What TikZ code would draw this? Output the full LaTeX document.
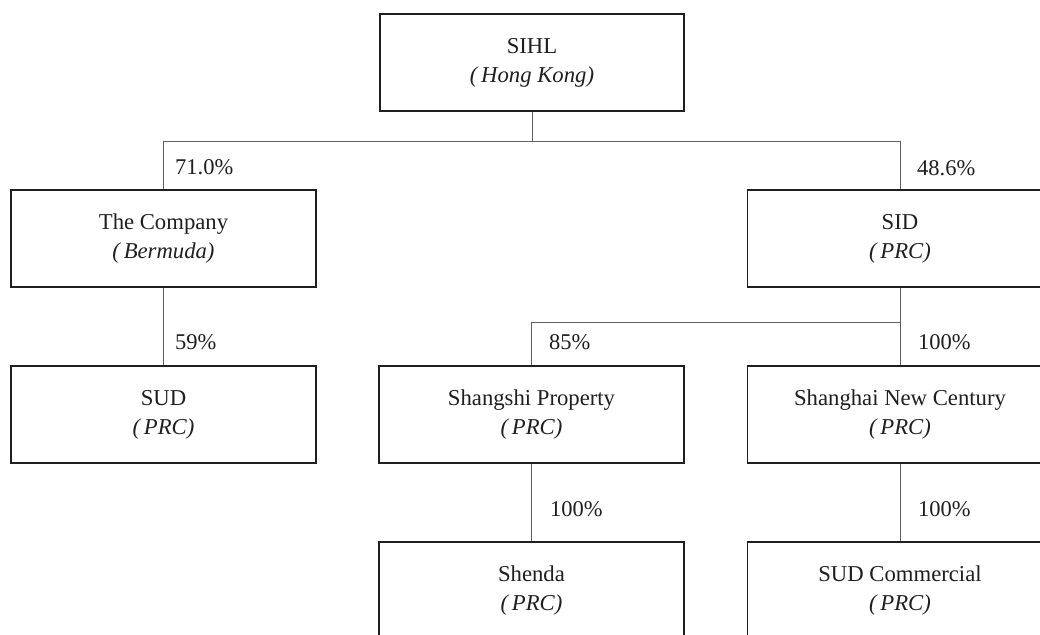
\documentclass[tikz,border=0pt]{standalone}
\usepackage{fontspec}
\setmainfont{Liberation Serif}
\begin{document}
\begin{tikzpicture}[x=1pt,y=-1pt,
  entity/.style={draw=black!88, line width=1.1pt, rectangle, minimum width=305pt,
    minimum height=97pt, inner sep=0pt, align=center, text=black!88,
    font=\fontsize{22.7}{29}\selectfont},
  link/.style={draw=black!62, line width=1pt},
  pct/.style={anchor=west, inner sep=0pt, text=black!88, font=\fontsize{22.5}{27}\selectfont}]
\useasboundingbox (0,0) rectangle (1040,634);
\clip (0,0) rectangle (1040,634);
\fill[white] (0,0) rectangle (1040,634);
% nodes
\node[entity, minimum width=304pt] (sihl) at (532,62.5) {SIHL\\\textit{(\,Hong Kong)}};
\node[entity] (comp) at (163.5,238.5) {The Company\\\textit{(\,Bermuda)}};
\node[entity] (sid) at (900,238.5) {SID\\\textit{(\,PRC)}};
\node[entity] (sud) at (163.5,414.5) {SUD\\\textit{(\,PRC)}};
\node[entity] (shp) at (531.5,414.5) {Shangshi Property\\\textit{(\,PRC)}};
\node[entity] (snc) at (900,414.5) {Shanghai New Century\\\textit{(\,PRC)}};
\node[entity] (shd) at (531.5,590.5) {Shenda\\\textit{(\,PRC)}};
\node[entity] (sudc) at (900,590.5) {SUD Commercial\\\textit{(\,PRC)}};
% bus coordinates
\coordinate (bus1) at (0,141);
\coordinate (bus2) at (0,322);
% connectors
\draw[link] (sihl.south) -- (sihl.south |- bus1) -| (comp.north);
\draw[link] (sihl.south |- bus1) -| (sid.north);
\draw[link] (comp.south) -- (sud.north);
\draw[link] (sid.south) -- (sid.south |- bus2) -| (shp.north);
\draw[link] (sid.south |- bus2) -- (snc.north);
\draw[link] (shp.south) -- (shd.north);
\draw[link] (snc.south) -- (sudc.north);
% percentages
\node[pct] (p1) at (175,167) {71.0\%};
\node[pct] (p2) at (917,168) {48.6\%};
\node[pct] (p3) at (175,342) {59\%};
\node[pct] (p4) at (549,342) {85\%};
\node[pct] (p5) at (918,342) {100\%};
\node[pct] (p6) at (550,509) {100\%};
\node[pct] (p7) at (918,509) {100\%};
\end{tikzpicture}
\end{document}
